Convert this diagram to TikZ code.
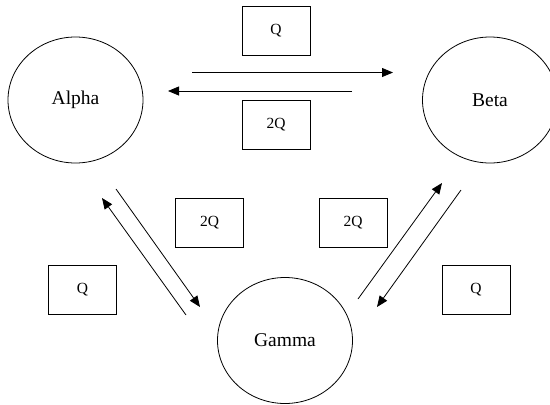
\documentclass[tikz,border=0pt]{standalone}
\usepackage{fontspec}
\setmainfont{Liberation Serif}
\usetikzlibrary{shapes.geometric,arrows.meta}
\begin{document}
\begin{tikzpicture}[x=1pt,y=-1pt,
  state/.style={draw,ellipse,line width=0.8pt,minimum width=135pt,minimum height=126pt,inner sep=0pt,font=\fontsize{19.5}{22}\selectfont},
  qbox/.style={draw,rectangle,line width=0.8pt,minimum width=68pt,minimum height=49pt,inner sep=0pt,font=\fontsize{15.5}{18}\selectfont},
  flow/.style={line width=0.8pt,-{Triangle[length=11pt,width=9pt]}}]
\useasboundingbox (0,0) rectangle (550,405);
\clip (0,0) rectangle (550,405);
\node[state] (alpha) at (75.5,100) {Alpha};
\node[state] (beta) at (490,100) {Beta};
\node[state] (gamma) at (285,340.5) {Gamma};
\node[qbox] (q1) at (276,30.5) {Q};
\node[qbox] (q2) at (276,125) {2Q};
\node[qbox] (q3) at (209.5,223) {2Q};
\node[qbox] (q4) at (82.5,289.5) {Q};
\node[qbox] (q5) at (353,223) {2Q};
\node[qbox] (q6) at (476,289.5) {Q};
\coordinate (a1) at (192,72.5);
\coordinate (b1) at (393,72.5);
\coordinate (b2) at (352,91);
\coordinate (a2) at (168,91);
\coordinate (g1) at (186,315);
\coordinate (a3) at (102,198);
\coordinate (a4) at (116,189);
\coordinate (g2) at (200,307);
\coordinate (g3) at (358,299);
\coordinate (b3) at (442,183);
\coordinate (b4) at (461,190);
\coordinate (g4) at (377,307);
\draw[flow] (a1) -- (b1);
\draw[flow] (b2) -- (a2);
\draw[flow] (g1) -- (a3);
\draw[flow] (a4) -- (g2);
\draw[flow] (g3) -- (b3);
\draw[flow] (b4) -- (g4);
\end{tikzpicture}
\end{document}
